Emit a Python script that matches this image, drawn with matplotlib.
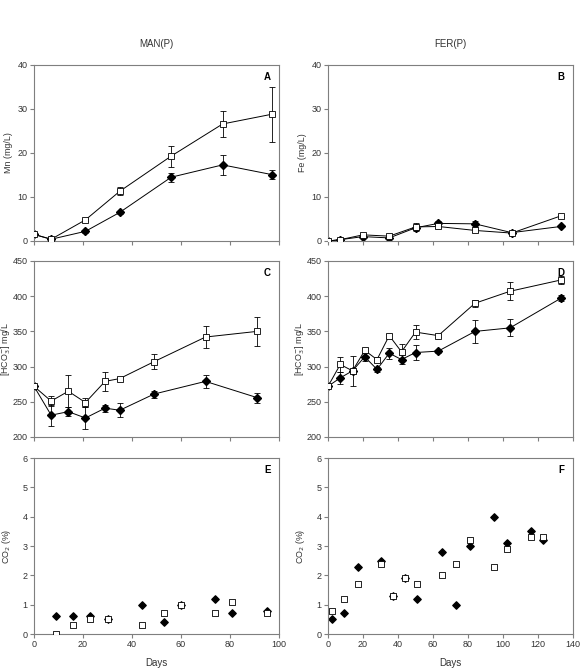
import numpy as np
import matplotlib
matplotlib.use("Agg")
from matplotlib import pyplot as plt

# Panel A: Mn, MAN(P)
mn_days = [0, 7, 21, 35, 56, 77, 97]
mn_open = [1.5, 0.4, 4.8, 11.3, 19.3, 26.6, 28.8]
mn_open_err = [0.2, 0.1, 0.3, 0.9, 2.4, 3.0, 6.3]
mn_fill = [1.5, 0.4, 2.2, 6.5, 14.5, 17.3, 15.1]
mn_fill_err = [0.2, 0.1, 0.3, 0.3, 1.0, 2.2, 1.1]

# Panel B: Fe, FER(P)
fe_days = [0, 7, 20, 35, 50, 63, 84, 105, 133]
fe_open = [0.0, 0.3, 1.4, 1.1, 3.2, 3.3, 2.4, 1.8, 5.7]
fe_open_err = [0.1, 0.1, 0.3, 0.2, 1.0, 0.3, 0.3, 0.2, 0.2]
fe_fill = [0.0, 0.3, 1.0, 0.7, 3.0, 4.0, 3.9, 1.9, 3.3]
fe_fill_err = [0.1, 0.1, 0.2, 0.2, 0.6, 0.5, 0.7, 0.3, 0.2]

# Panel C: HCO3, MAN(P)
hc_days = [0, 7, 14, 21, 29, 35, 49, 70, 91]
hc_open = [272, 251, 265, 249, 279, 283, 307, 342, 350]
hc_open_err = [2, 7, 23, 7, 14, 2, 11, 16, 21]
hc_fill = [272, 231, 236, 227, 241, 238, 261, 279, 256]
hc_fill_err = [2, 15, 6, 15, 5, 10, 5, 9, 7]

# Panel D: HCO3, FER(P)
hd_days = [0, 7, 14, 21, 28, 35, 42, 50, 63, 84, 104, 133]
hd_open = [272, 303, 294, 323, 310, 344, 321, 349, 344, 390, 407, 423]
hd_open_err = [2, 10, 21, 3, 4, 3, 11, 10, 2, 5, 13, 6]
hd_fill = [272, 284, 294, 314, 296, 319, 310, 320, 322, 350, 355, 397]
hd_fill_err = [2, 9, 4, 6, 3, 8, 6, 10, 2, 16, 12, 4]

# Panel E: CO2, MAN(P)
ce_days = [9, 16, 23, 30, 44, 53, 60, 74, 81, 95]
ce_fill = [0.6, 0.6, 0.6, 0.5, 1.0, 0.4, 1.0, 1.2, 0.7, 0.8]
ce_open = [0.0, 0.3, 0.5, 0.5, 0.3, 0.7, 1.0, 0.7, 1.1, 0.7]

# Panel F: CO2, FER(P)
cf_days = [2, 9, 17, 30, 37, 44, 51, 65, 73, 81, 95, 102, 116, 123]
cf_fill = [0.5, 0.7, 2.3, 2.5, 1.3, 1.9, 1.2, 2.8, 1.0, 3.0, 4.0, 3.1, 3.5, 3.2]
cf_open = [0.8, 1.2, 1.7, 2.4, 1.3, 1.9, 1.7, 2.0, 2.4, 3.2, 2.3, 2.9, 3.3, 3.3]

plt.rcParams["font.family"] = "Liberation Sans"
plt.rcParams["font.size"] = 6.5

grey = "#7f7f7f"
txt = "#333333"

fig = plt.figure(figsize=(5.81, 6.71), dpi=100)

W = 245 / 581
H = 176 / 671
lefts = [34 / 581, 328 / 581]
bottoms = [1 - 241 / 671, 1 - 437 / 671, 1 - 634 / 671]


def style(ax, xmax, ymin, ymax, ystep, ylabel, letter, xlabels):
    ax.set_xlim(0, xmax)
    ax.set_ylim(ymin, ymax)
    ax.set_xticks(np.arange(0, xmax + 1, 20))
    ax.set_yticks(np.arange(ymin, ymax + 0.001, ystep))
    for s in ax.spines.values():
        s.set_color(grey)
        s.set_linewidth(0.8)
    ax.tick_params(direction="out", length=3, width=0.8, color=grey,
                   labelcolor=txt, labelsize=6.5, pad=1.5)
    if not xlabels:
        ax.set_xticklabels([])
    else:
        ax.set_xlabel("Days", fontsize=7, color=txt, labelpad=6)
    ax.set_ylabel(ylabel, fontsize=6.4, color=txt)
    ax.yaxis.set_label_coords(-0.086, 0.5)
    ax.text(0.965, 0.93, letter, transform=ax.transAxes, ha="right", va="center",
            fontsize=7, fontweight="bold", color="black")


def lines(ax, x, yo, eo, yf, ef):
    ax.errorbar(x, yf, yerr=ef, fmt="-D", color="black", lw=0.7, ms=3.8,
                mfc="black", mec="black", ecolor="black", elinewidth=0.6,
                capsize=2, capthick=0.6, zorder=2)
    ax.errorbar(x, yo, yerr=eo, fmt="-s", color="black", lw=0.7, ms=3.8,
                mfc="white", mec="black", mew=0.6, ecolor="black", elinewidth=0.6,
                capsize=2, capthick=0.6, zorder=3)


axA = fig.add_axes([lefts[0], bottoms[0], W, H])
lines(axA, mn_days, mn_open, mn_open_err, mn_fill, mn_fill_err)
style(axA, 100, 0, 40, 10, "Mn (mg/L)", "A", False)
axA.set_title("MAN(P)", fontsize=7, color=txt, pad=13)

axB = fig.add_axes([lefts[1], bottoms[0], W, H])
lines(axB, fe_days, fe_open, fe_open_err, fe_fill, fe_fill_err)
style(axB, 140, 0, 40, 10, "Fe (mg/L)", "B", False)
axB.set_title("FER(P)", fontsize=7, color=txt, pad=13)

axC = fig.add_axes([lefts[0], bottoms[1], W, H])
lines(axC, hc_days, hc_open, hc_open_err, hc_fill, hc_fill_err)
style(axC, 100, 200, 450, 50, "[HCO$_3^{-}$] mg/L", "C", False)

axD = fig.add_axes([lefts[1], bottoms[1], W, H])
lines(axD, hd_days, hd_open, hd_open_err, hd_fill, hd_fill_err)
style(axD, 140, 200, 450, 50, "[HCO$_3^{-}$] mg/L", "D", False)

axE = fig.add_axes([lefts[0], bottoms[2], W, H])
axE.scatter(ce_days, ce_fill, marker="D", s=14, color="black", zorder=2)
axE.scatter(ce_days, ce_open, marker="s", s=14, facecolor="white",
            edgecolor="black", linewidth=0.6, zorder=3)
style(axE, 100, 0, 6, 1, "CO$_2$ (%)", "E", True)

axF = fig.add_axes([lefts[1], bottoms[2], W, H])
axF.scatter(cf_days, cf_fill, marker="D", s=14, color="black", zorder=2)
axF.scatter(cf_days, cf_open, marker="s", s=14, facecolor="white",
            edgecolor="black", linewidth=0.6, zorder=3)
style(axF, 140, 0, 6, 1, "CO$_2$ (%)", "F", True)

fig.savefig("out.png", dpi=100)
plt.close()
